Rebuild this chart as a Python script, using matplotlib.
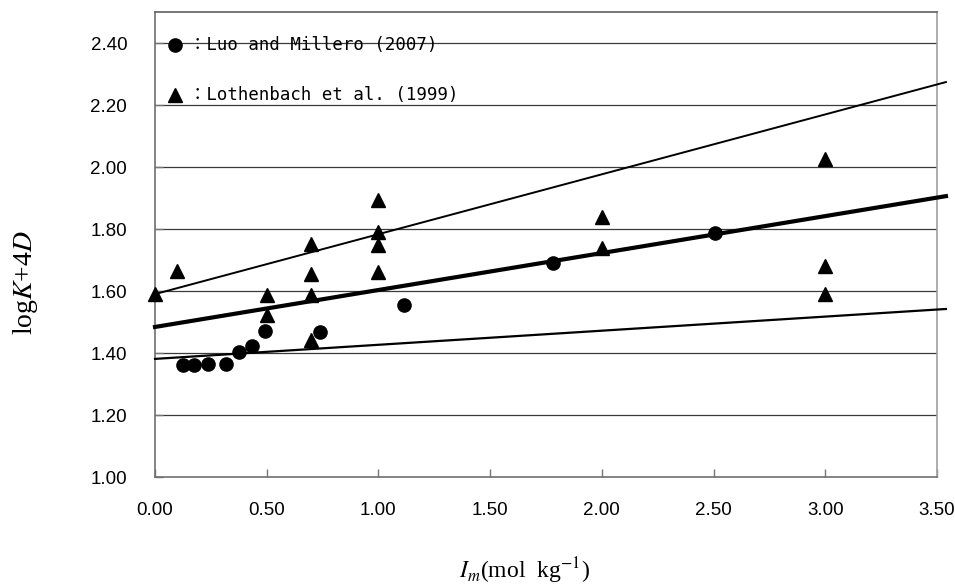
import matplotlib
matplotlib.use("Agg")
import matplotlib.pyplot as plt
import numpy as np

# Luo and Millero (2007) - circles
luo_x = [0.124, 0.176, 0.236, 0.318, 0.377, 0.433, 0.492, 0.739, 1.115, 1.78, 2.507]
luo_y = [1.361, 1.361, 1.365, 1.365, 1.404, 1.423, 1.471, 1.469, 1.555, 1.689, 1.786]

# Lothenbach et al. (1999) - triangles
loth_x = [0.0, 0.10, 0.5, 0.5, 0.7, 0.7, 0.7, 0.7, 1.0, 1.0, 1.0, 1.0, 2.0, 2.0, 3.0, 3.0, 3.0]
loth_y = [1.59, 1.665, 1.587, 1.523, 1.752, 1.655, 1.587, 1.442,
          1.893, 1.79, 1.75, 1.662, 1.84, 1.738, 2.025, 1.68, 1.59]

# fitted lines (end points)
fit_x = [0.0, 3.54]
upper_y = [1.59, 2.274]
mid_y = [1.484, 1.906]
lower_y = [1.381, 1.542]

xticks = [0.0, 0.5, 1.0, 1.5, 2.0, 2.5, 3.0, 3.5]
yticks = [1.0, 1.2, 1.4, 1.6, 1.8, 2.0, 2.2, 2.4]

plt.rcParams['mathtext.fontset'] = 'stix'

fig = plt.figure(figsize=(9.55, 5.88), dpi=100)
ax = fig.add_axes([155/955, 111/588, 782/955, 465/588])

ax.set_xlim(0, 3.5)
ax.set_ylim(1.0, 2.5)

for yv in yticks[1:]:
    ax.axhline(yv, color='#3a3a3a', lw=0.9, zorder=1)

ax.plot(fit_x, upper_y, color='black', lw=1.4, clip_on=False, zorder=3)
ax.plot(fit_x, mid_y, color='black', lw=3.0, clip_on=False, zorder=3)
ax.plot(fit_x, lower_y, color='black', lw=1.6, clip_on=False, zorder=3)

ax.plot(luo_x, luo_y, 'o', color='black', ms=9.5, clip_on=False, zorder=4)
ax.plot(loth_x, loth_y, '^', color='black', ms=10.5, clip_on=False, zorder=4)

ax.set_xticks(xticks)
ax.set_xticklabels([f"{v:.2f}" for v in xticks])
ax.set_yticks(yticks)
ax.set_yticklabels([f"{v:.2f}" for v in yticks])
ax.tick_params(direction='in', length=6, color='#777777', width=1,
               labelsize=13.5)
ax.tick_params(axis='x', pad=18)
ax.tick_params(axis='y', pad=20)
for lab in ax.get_xticklabels() + ax.get_yticklabels():
    lab.set_fontfamily('Liberation Sans')

ax.spines['left'].set_color('#707070')
ax.spines['bottom'].set_color('#707070')
ax.spines['right'].set_color('#a0a0a0')
ax.spines['top'].set_color('#606060')
for s in ax.spines.values():
    s.set_linewidth(1.2)

# legend entries
ax.plot([0.0256], [0.929], 'o', color='black', ms=9.5, transform=ax.transAxes, clip_on=False, zorder=5)
ax.plot([0.0256], [0.8215], '^', color='black', ms=10.5, transform=ax.transAxes, clip_on=False, zorder=5)
ax.text(0.043, 0.929, "：Luo and Millero (2007)", transform=ax.transAxes,
        va='center', ha='left', fontsize=12.5, family=['DejaVu Sans Mono', 'Noto Sans CJK JP'])
ax.text(0.043, 0.8215, "：Lothenbach et al. (1999)", transform=ax.transAxes,
        va='center', ha='left', fontsize=12.5, family=['DejaVu Sans Mono', 'Noto Sans CJK JP'])

fig.text(25/955, 1 - 283/588, r"log$K$+4$D$", rotation=90, ha='center', va='center',
         fontsize=20, family='Liberation Serif')
fig.text(525/955, 1 - 571/588, r"$I_m$(mol  kg$^{-1}$)", ha='center', va='center',
         fontsize=17, family='Liberation Serif')

fig.savefig("out.png", dpi=100)
